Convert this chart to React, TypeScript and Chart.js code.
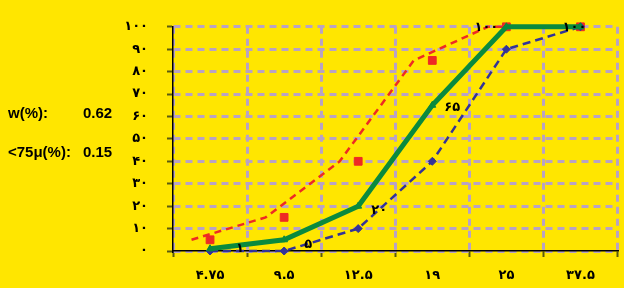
import React, { useEffect, useRef } from "react";
import { Chart, registerables } from "chart.js";

Chart.register(...registerables);

const categories = ["۴.۷۵", "۹.۵", "۱۲.۵", "۱۹", "۲۵", "۳۷.۵"];
const yTickLabels = ["۰", "۱۰", "۲۰", "۳۰", "۴۰", "۵۰", "۶۰", "۷۰", "۸۰", "۹۰", "۱۰۰"];
const greenValues = [1, 5, 20, 65, 100, 100];
const greenLabels = ["۱", "۵", "۲۰", "۶۵", "۱۰۰", "۱۰۰"];
const redValues = [5, 15, 40, 85, 100, 100];
const blueValues = [0, 0, 10, 40, 90, 100];
const infoLabels = ["w(%):", "<75μ(%):"];
const infoValues = ["0.62", "0.15"];

const YELLOW = "#FFE600";
const GREEN = "#0A8A3E";
const RED = "#EE2A24";
const BLUE = "#333399";
const GRID = "#B8A2C4";
const TICK = "#5A5A10";
const LABEL_FONT = '"DejaVu Sans", sans-serif';

// label offsets (style) for each green data label
const labelOffsets = [
  [30, 0],
  [24, 5],
  [21, 4],
  [20, 2],
  [-20, 1],
  [-6, 1],
];

export default function App() {
  const ref = useRef<HTMLCanvasElement | null>(null);

  useEffect(() => {
    document.body.style.margin = "0";
    document.body.style.background = YELLOW;
    const canvas = ref.current;
    if (!canvas) return;

    const bgPlugin = {
      id: "bg",
      beforeDraw(chart: any) {
        const { ctx, width, height } = chart;
        ctx.save();
        ctx.fillStyle = YELLOW;
        ctx.fillRect(0, 0, width, height);
        ctx.restore();
      },
    };

    const labelsPlugin = {
      id: "labelsAndInfo",
      afterDatasetsDraw(chart: any) {
        const { ctx } = chart;
        const meta = chart.getDatasetMeta(0);
        ctx.save();
        ctx.fillStyle = "#000";
        ctx.font = `bold 13px ${LABEL_FONT}`;
        ctx.textAlign = "center";
        ctx.textBaseline = "middle";
        meta.data.forEach((pt: any, i: number) => {
          const [dx, dy] = labelOffsets[i];
          ctx.fillText(greenLabels[i], pt.x + dx, pt.y + dy);
        });
        ctx.restore();
      },
      afterDraw(chart: any) {
        const { ctx } = chart;
        ctx.save();
        ctx.fillStyle = "#000";
        ctx.font = 'bold 15px "Liberation Sans", Arial, sans-serif';
        ctx.textAlign = "left";
        ctx.textBaseline = "middle";
        const rows = [114, 153];
        infoLabels.forEach((t, i) => {
          ctx.fillText(t, 8, rows[i]);
          ctx.fillText(infoValues[i], 83, rows[i]);
        });
        ctx.restore();
      },
    };

    const chart = new Chart(canvas, {
      type: "line",
      data: {
        labels: categories,
        datasets: [
          {
            label: "green",
            data: greenValues,
            borderColor: GREEN,
            backgroundColor: GREEN,
            borderWidth: 5,
            pointStyle: "triangle",
            pointRadius: 4,
            pointBorderWidth: 1,
            tension: 0,
            clip: false,
            xAxisID: "x",
          },
          {
            label: "blue",
            data: blueValues,
            borderColor: BLUE,
            backgroundColor: BLUE,
            borderWidth: 2.5,
            borderDash: [8, 5],
            pointStyle: "rectRot",
            pointRadius: 4,
            pointBorderWidth: 1,
            tension: 0,
            clip: false,
            xAxisID: "x",
          },
          {
            label: "redPoints",
            data: redValues,
            borderColor: RED,
            backgroundColor: RED,
            showLine: false,
            pointStyle: "rect",
            pointRadius: 5.5,
            pointBorderWidth: 1,
            clip: false,
            xAxisID: "x",
          },
          {
            label: "redLine",
            data: redValues.map((v, i) => ({ x: i, y: v })),
            borderColor: RED,
            backgroundColor: RED,
            borderWidth: 2.5,
            borderDash: [7, 5],
            pointRadius: 0,
            tension: 0,
            clip: false,
            xAxisID: "xs",
          },
        ],
      },
      options: {
        animation: false,
        responsive: false,
        maintainAspectRatio: false,
        layout: { padding: { left: 0, right: 0, top: 19, bottom: 0 } },
        plugins: {
          legend: { display: false },
          tooltip: { enabled: false },
        },
        scales: {
          x: {
            type: "category",
            offset: true,
            afterFit: (s: any) => {
              s.height = 37;
            },
            grid: {
              offset: true,
              color: GRID,
              lineWidth: 3,
              drawTicks: true,
              tickLength: 6,
              tickColor: TICK,
              tickWidth: 2,
            },
            border: { display: true, color: "#000", width: 1.5, dash: [7, 5] },
            ticks: {
              color: "#000",
              font: { family: LABEL_FONT, size: 13, weight: "bold" },
              padding: 11,
              maxRotation: 0,
            },
          },
          xs: {
            type: "linear",
            display: false,
            min: -0.25,
            max: 5.75,
          },
          y: {
            min: 0,
            max: 100,
            afterFit: (s: any) => {
              s.width = 173;
            },
            ticks: {
              stepSize: 10,
              color: "#000",
              font: { family: LABEL_FONT, size: 13, weight: "bold" },
              padding: 19,
              callback: (_v: any, i: number) => yTickLabels[i],
            },
            grid: {
              color: GRID,
              lineWidth: 3,
              drawTicks: true,
              tickLength: 6,
              tickColor: TICK,
              tickWidth: 2,
            },
            border: { display: true, color: "#000", width: 1.5, dash: [7, 5] },
          },
        },
      },
      plugins: [bgPlugin, labelsPlugin],
    } as any);

    return () => chart.destroy();
  }, []);

  return <canvas ref={ref} width={624} height={288} style={{ display: "block" }} />;
}
